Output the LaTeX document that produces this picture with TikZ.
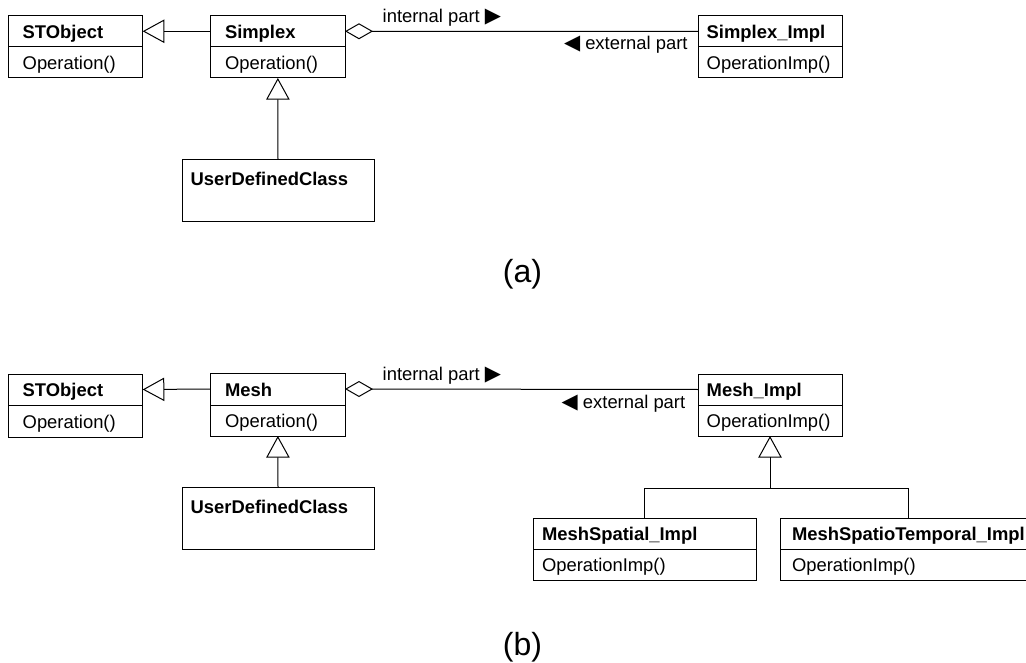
\documentclass[tikz,border=0pt]{standalone}
\usepackage{fontspec}
\setmainfont{Liberation Sans}
\newfontfamily\symfont{DejaVu Sans}
\usetikzlibrary{arrows.meta,calc}

% one UML class: name, left, top, right, divider, bottom, text indent, title, operation
\newcommand\umlclass[9]{%
  \node[compart, minimum width={#4pt-#2pt}, minimum height={#5pt-#3pt}] (#1-t) at (#2,#3) {};
  \node[compart, minimum width={#4pt-#2pt}, minimum height={#6pt-#5pt}] (#1-o) at (#2,#5) {};
  \node[ctitle] (#1-tt) at ($(#1-t.west)+(#7,7.3)$) {#8};
  \node[cop] (#1-ot) at ($(#1-o.west)+(#7,7.3)$) {#9};
}
% filled pointer glyphs used in the role labels
\newcommand\rarr{{\symfont\fontsize{21}{22}\selectfont▶}}
\newcommand\larr{{\symfont\fontsize{21}{22}\selectfont◀}}

\tikzset{
  every node/.style={inner sep=0pt, outer sep=0pt},
  compart/.style={draw, line width=1pt, anchor=north west},
  ctitle/.style={anchor=base west, font=\fontsize{18.4}{22}\selectfont\bfseries},
  cop/.style={anchor=base west, font=\fontsize{18.4}{22}\selectfont},
  lbl/.style={anchor=base west, font=\fontsize{18.4}{22}\selectfont},
  caption/.style={font=\fontsize{32}{38}\selectfont},
  genline/.style={line width=1pt, -{Triangle[open, length=21.6pt, width=23.4pt]}},
  aggline/.style={line width=1pt, {Diamond[open, length=28pt, width=16pt]}-},
  plainline/.style={line width=1pt},
}

\begin{document}
\begin{tikzpicture}[x=1pt, y=-1pt]
\fill[white] (0,0) rectangle (1026,663);
\useasboundingbox (0,0) rectangle (1026,663);

% ---------- (a) Simplex ----------
\umlclass{stoa}{8}{15.5}{142.7}{47}{78}{14.7}{STObject}{Operation()}
\umlclass{simplex}{210.7}{15.5}{345}{47}{78}{14.3}{Simplex}{Operation()}
\umlclass{simpleximpl}{698}{16}{842}{47}{78}{8.7}{Simplex\_Impl}{OperationImp()}

\node[compart, minimum width=192pt, minimum height=62pt] (udca) at (182,160) {};
\node[ctitle] (udca-tt) at ($(udca.north west)+(8.7,26)$) {UserDefinedClass};

\draw[genline] (simplex-t.west) -- (stoa-t.east);
\draw[genline] (udca.north) -- (simplex-o.south);
\draw[aggline] (simplex-t.east) -- (simpleximpl-t.west);

\node[lbl] (inta) at (382.7,22.7) {internal part \rarr};
\node[lbl] (exta) at (564,49.3) {\larr\ external part};

\node[caption] (capa) at (522.5,274) {(a)};

% ---------- (b) Mesh ----------
\umlclass{stob}{8}{374}{142.7}{405}{437}{14.7}{STObject}{Operation()}
\umlclass{mesh}{210.7}{373}{345}{405}{436}{14.3}{Mesh}{Operation()}
\umlclass{meshimpl}{698}{374}{842}{405}{436}{8.7}{Mesh\_Impl}{OperationImp()}
\umlclass{mss}{533.3}{518}{756}{549.3}{580}{8.7}{MeshSpatial\_Impl}{OperationImp()}
\umlclass{msst}{780.7}{518}{1035.3}{549.3}{580}{11.3}{MeshSpatioTemporal\_Impl}{OperationImp()}

\node[compart, minimum width=192pt, minimum height=62pt] (udcb) at (182,487) {};
\node[ctitle] (udcb-tt) at ($(udcb.north west)+(8.7,26)$) {UserDefinedClass};

\draw[genline] (mesh-t.west) -- (stob-t.east);
\draw[genline] (udcb.north) -- (mesh-o.south);
\draw[aggline] (mesh-t.east) -- (meshimpl-t.west);

\coordinate (join) at (770,488);
\draw[plainline] (mss-t.north) |- (join);
\draw[plainline] (msst-t.north) |- (join);
\draw[genline] (join) -- (meshimpl-o.south);

\node[lbl] (intb) at (382.7,380.7) {internal part \rarr};
\node[lbl] (extb) at (561.7,408) {\larr\ external part};

\node[caption] (capb) at (522.5,647) {(b)};
\end{tikzpicture}
\end{document}
